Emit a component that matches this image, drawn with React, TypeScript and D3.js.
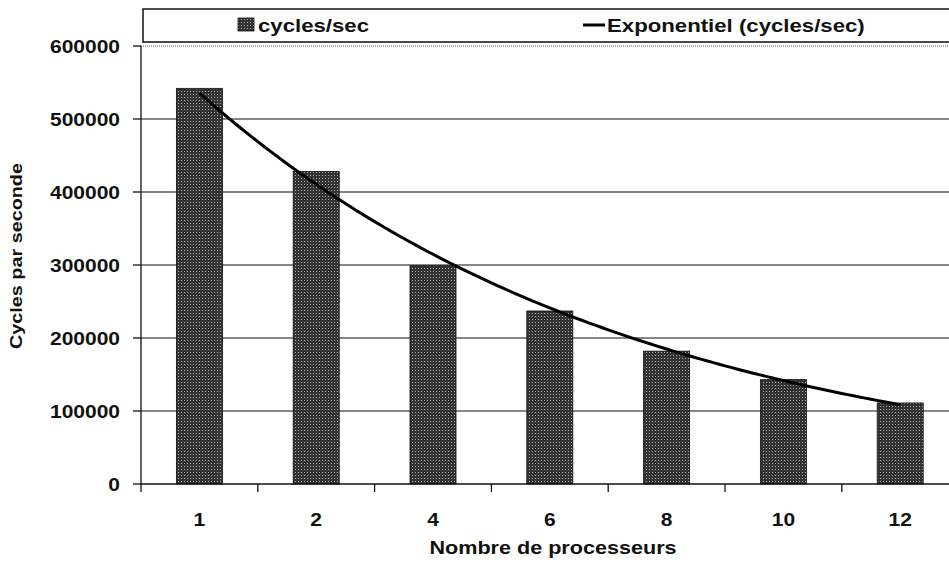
import React from "react";
import * as d3 from "d3";

const categories = ["1", "2", "4", "6", "8", "10", "12"];
const cyclesPerSec = [542000, 428000, 299000, 237000, 182000, 143000, 111000];
const yTicks = [0, 100000, 200000, 300000, 400000, 500000, 600000];
const seriesName = "cycles/sec";
const trendName = "Exponentiel (cycles/sec)";
const xTitle = "Nombre de processeurs";
const yTitle = "Cycles par seconde";

const W = 949;
const H = 567;
const FONT = "'Liberation Sans', Arial, sans-serif";
const SX = 1.2;

export default function App() {
  const x = d3
    .scaleBand<string>()
    .domain(categories)
    .range([141, 958.6])
    .paddingInner(0.606)
    .paddingOuter(0.303);
  const y = d3.scaleLinear().domain([0, 600000]).range([484, 46]);
  const step = x.step();
  const left = 141;

  // Exponential trendline (least squares on ln(y) vs index 1..n)
  const xs = cyclesPerSec.map((_, i) => i + 1);
  const ls = cyclesPerSec.map((v) => Math.log(v));
  const mx = d3.mean(xs)!;
  const ml = d3.mean(ls)!;
  const b =
    d3.sum(xs.map((xi, i) => (xi - mx) * (ls[i] - ml))) /
    d3.sum(xs.map((xi) => (xi - mx) ** 2));
  const a = ml - b * mx;
  const trendPts: [number, number][] = [];
  for (let t = 1; t <= categories.length + 1e-9; t += 0.05) {
    const px = x(categories[0])! + x.bandwidth() / 2 + (t - 1) * step;
    trendPts.push([px, y(Math.exp(a + b * t))]);
  }
  const line = d3.line().curve(d3.curveLinear)(trendPts) || "";

  const textAt = (
    tx: number,
    ty: number,
    s: string,
    size: number,
    anchor: "start" | "middle" | "end",
    key?: string
  ) => (
    <text
      key={key}
      transform={`translate(${tx},${ty}) scale(${SX},1)`}
      fontFamily={FONT}
      fontWeight="bold"
      fontSize={size}
      textAnchor={anchor}
      fill="#111"
    >
      {s}
    </text>
  );

  return (
    <svg width={W} height={H} style={{ position: "absolute", left: 0, top: 0, background: "#fff" }}>
      <defs>
        <pattern id="stip" width="3" height="3" patternUnits="userSpaceOnUse">
          <rect width="3" height="3" fill="#333" />
          <rect x="1" y="1" width="1" height="1" fill="#a8a8a8" />
        </pattern>
      </defs>
      <rect width={W} height={H} fill="#fff" />

      {/* gridlines */}
      {yTicks.slice(1, -1).map((t) => (
        <line key={t} x1={left} x2={W} y1={y(t)} y2={y(t)} stroke="#111" strokeWidth={1.2} />
      ))}
      <line x1={left} x2={W} y1={y(600000)} y2={y(600000)} stroke="#666" strokeWidth={1} strokeDasharray="1,1" />

      {/* bars */}
      {cyclesPerSec.map((v, i) => (
        <rect
          key={i}
          x={x(categories[i])}
          y={y(v)}
          width={x.bandwidth()}
          height={y(0) - y(v)}
          fill="url(#stip)"
          stroke="#111"
          strokeWidth={0.8}
        />
      ))}

      {/* trend */}
      <path d={line} fill="none" stroke="#000" strokeWidth={3} />

      {/* axes */}
      <line x1={left} x2={left} y1={y(600000)} y2={y(0)} stroke="#111" strokeWidth={1.3} />
      <line x1={left} x2={W} y1={y(0)} y2={y(0)} stroke="#111" strokeWidth={1.5} />
      {yTicks.map((t) => (
        <line key={"yt" + t} x1={left - 8} x2={left} y1={y(t)} y2={y(t)} stroke="#111" strokeWidth={1.3} />
      ))}
      {categories.map((c, i) => (
        <line
          key={"xt" + c}
          x1={left + i * step}
          x2={left + i * step}
          y1={y(0)}
          y2={y(0) + 8}
          stroke="#111"
          strokeWidth={1.3}
        />
      ))}
      {yTicks.map((t) => textAt(120, y(t) + 6.5, String(t), 17.5, "end", "yl" + t))}
      {categories.map((c) => textAt(x(c)! + x.bandwidth() / 2, 526, c, 17.5, "middle", "xl" + c))}

      {textAt(553, 554, xTitle, 18, "middle")}
      <text
        transform={`translate(22,256) rotate(-90) scale(${SX},1)`}
        fontFamily={FONT}
        fontWeight="bold"
        fontSize={16.5}
        textAnchor="middle"
        fill="#111"
      >
        {yTitle}
      </text>

      {/* legend */}
      <rect x={143} y={9} width={W} height={33} fill="#fff" stroke="#111" strokeWidth={1.5} />
      <rect x={238} y={18} width={16} height={13} fill="url(#stip)" stroke="#111" strokeWidth={0.8} />
      {textAt(258, 32, seriesName, 18.5, "start")}
      <line x1={583} x2={605} y1={25} y2={25} stroke="#000" strokeWidth={3} />
      {textAt(607, 32, trendName, 18.5, "start")}
    </svg>
  );
}
